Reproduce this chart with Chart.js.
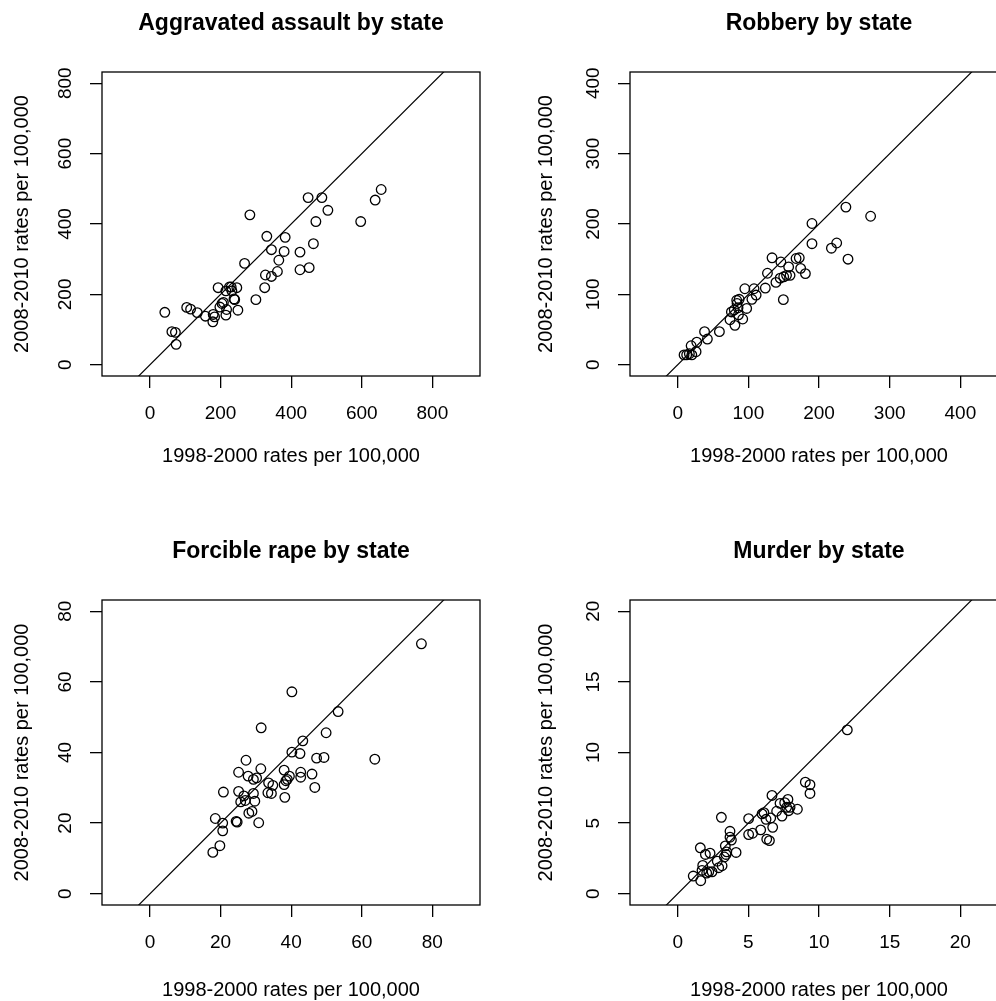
<!DOCTYPE html>
<html>
<head>
<meta charset="utf-8">
<script src="https://cdn.jsdelivr.net/npm/chart.js@4.4.1/dist/chart.umd.min.js"></script>
<style>
  html, body { margin: 0; padding: 0; background: #fff; overflow: hidden; width: 996px; height: 1001px; }
  canvas { position: absolute; }
</style>
</head>
<body>
<canvas id="assault" width="498" height="490" style="left:0;top:0"></canvas>
<canvas id="robbery" width="520" height="490" style="left:498px;top:0"></canvas>
<canvas id="rape" width="498" height="501" style="left:0;top:500px"></canvas>
<canvas id="murder" width="520" height="501" style="left:498px;top:500px"></canvas>
<script>
// rates per 100,000: x = 1998-2000, y = 2008-2010
const assaultX = [42, 62, 72, 74, 104, 115, 134, 157, 179, 178, 183, 193, 198, 204, 208, 215, 215, 217, 225, 230, 232, 238, 240, 246, 249, 268, 283, 300, 325, 327, 331, 344, 344, 361, 365, 380, 383, 425, 425, 448, 451, 463, 470, 487, 504, 597, 638, 655];
const assaultY = [149, 94, 92, 58, 163, 158, 148, 138, 143, 122, 136, 219, 164, 174, 177, 210, 141, 157, 221, 221, 210, 187, 185, 219, 155, 288, 426, 185, 219, 255, 365, 327, 251, 265, 297, 322, 362, 320, 270, 475, 276, 344, 407, 475, 439, 407, 468, 498];

const robberyX = [9, 12.7, 16.5, 20, 19, 26, 27, 38, 42, 59, 74, 76, 80, 81, 83.5, 84, 85.4, 86, 87, 92, 95, 97.6, 105, 108, 111, 124, 127, 133.5, 139, 146, 145, 149.5, 150, 154, 157, 159, 167.5, 172, 174, 180.7, 190, 190, 217.5, 225, 238, 241, 273];
const robberyY = [14, 14, 15.7, 14, 27, 18.5, 32, 47, 36.5, 47, 64, 75, 78, 56, 91.6, 87, 81, 71, 93, 65, 108, 80, 93, 108, 99, 109, 130, 152, 117, 146, 123, 92.5, 125, 127, 139, 127, 151, 152, 137, 129.5, 200.7, 172, 165.6, 173, 224, 150, 211];

const rapeX = [17.8, 19.8, 18.5, 20.6, 20.6, 20.8, 24.4, 24.7, 25.1, 25.1, 25.7, 26.6, 27, 27.2, 27.8, 28, 28.9, 29.3, 29.3, 29.7, 30.2, 30.8, 31.4, 31.5, 33.6, 33.4, 34.4, 34.8, 38, 38, 38.2, 38.5, 38.9, 39.5, 40.2, 40.2, 42.5, 42.7, 42.7, 43.3, 45.9, 46.7, 47.2, 49.3, 49.9, 53.3, 63.7, 76.9];
const rapeY = [11.7, 13.6, 21.3, 20, 17.8, 28.8, 20.5, 20.3, 34.4, 29, 26, 27.7, 26.4, 37.8, 33.3, 22.8, 23.3, 32.4, 28.4, 26.2, 32.8, 20.1, 35.4, 47, 31.4, 28.6, 28.4, 30.7, 35, 30.9, 27.3, 32, 32.4, 33.3, 57.2, 40.1, 39.7, 34.4, 33, 43.3, 33.9, 30.1, 38.4, 38.6, 45.6, 51.6, 38.1, 70.8];

const murderX = [1.1, 1.6, 1.63, 1.72, 1.77, 1.96, 2.05, 2.2, 2.29, 2.43, 2.8, 2.9, 3.09, 3.14, 3.3, 3.37, 3.42, 3.47, 3.7, 3.7, 3.8, 4.13, 5.02, 5.02, 5.3, 5.87, 5.97, 6.1, 6.25, 6.3, 6.49, 6.58, 6.67, 6.72, 7.0, 7.24, 7.38, 7.57, 7.71, 7.8, 7.85, 7.95, 8.47, 9.03, 9.36, 9.36, 12.0];
const murderY = [1.25, 3.25, 0.92, 1.65, 2.0, 2.78, 1.46, 1.55, 2.87, 1.55, 2.3, 1.84, 5.41, 1.98, 2.6, 3.39, 2.78, 2.96, 4.42, 4.0, 3.8, 2.92, 5.32, 4.19, 4.28, 4.52, 5.65, 5.74, 5.27, 3.86, 3.76, 5.36, 6.96, 4.7, 5.84, 6.4, 5.5, 6.45, 6.12, 6.68, 5.88, 6.12, 5.98, 7.9, 7.72, 7.1, 11.6];

const assaultTicks = [0, 200, 400, 600, 800];
const robberyTicks = [0, 100, 200, 300, 400];
const rapeTicks = [0, 20, 40, 60, 80];
const murderTicks = [0, 5, 10, 15, 20];

const xLabel = '1998-2000 rates per 100,000';
const yLabel = '2008-2010 rates per 100,000';

const FONT = '"Liberation Sans", Arial, Helvetica, sans-serif';
Chart.defaults.font.family = FONT;
Chart.defaults.color = '#000';

// box around the plot region + y tick labels written along the axis (R style)
const rFrame = {
  id: 'rFrame',
  afterDraw(chart) {
    const { ctx, chartArea: a, scales: { y } } = chart;
    ctx.save();
    ctx.strokeStyle = '#000';
    ctx.lineWidth = 1.3;
    ctx.strokeRect(a.left, a.top, a.right - a.left, a.bottom - a.top);
    ctx.fillStyle = '#000';
    ctx.font = '19px ' + FONT;
    ctx.textAlign = 'center';
    ctx.textBaseline = 'middle';
    y.ticks.forEach(t => {
      ctx.save();
      ctx.translate(a.left - 36, y.getPixelForValue(t.value));
      ctx.rotate(-Math.PI / 2);
      ctx.fillText(t.label != null ? t.label : String(t.value), 0, 0);
      ctx.restore();
    });
    ctx.restore();
  }
};

function makePanel(id, title, xs, ys, ticks, xLim, yLim, box, titleY, xTitleY, yTitleX) {
  const canvas = document.getElementById(id);
  const W = canvas.width, H = canvas.height;
  const lo = Math.min(xLim[0], yLim[0]), hi = Math.max(xLim[1], yLim[1]);
  const tickGrid = { drawOnChartArea: false, drawTicks: true, tickLength: 12, color: '#000', lineWidth: 1.3 };

  return new Chart(canvas, {
    data: {
      datasets: [
        {
          type: 'scatter',
          data: xs.map((x, i) => ({ x: x, y: ys[i] })),
          pointStyle: 'circle',
          pointRadius: 4.8,
          borderWidth: 1.3,
          borderColor: '#000',
          backgroundColor: 'rgba(0,0,0,0)'
        },
        {
          // y = x reference line
          type: 'line',
          data: [{ x: lo, y: lo }, { x: hi, y: hi }],
          borderColor: '#000',
          borderWidth: 1.2,
          pointRadius: 0,
          fill: false
        }
      ]
    },
    options: {
      responsive: false,
      animation: false,
      events: [],
      layout: { padding: { left: 0, top: 0, right: W - box.right, bottom: 0 } },
      plugins: {
        legend: { display: false },
        tooltip: { enabled: false },
        title: {
          display: true,
          text: title,
          fullSize: false,
          color: '#000',
          font: { size: 23, weight: 'bold', lineHeight: 1.2 },
          padding: { top: titleY - 13.8, bottom: box.top - (titleY - 13.8) - 27.6 }
        }
      },
      scales: {
        x: {
          type: 'linear',
          position: 'bottom',
          min: xLim[0],
          max: xLim[1],
          afterBuildTicks: s => { s.ticks = ticks.map(v => ({ value: v })); },
          afterFit: s => { s.height = H - box.bottom; },
          grid: tickGrid,
          border: { display: false },
          ticks: { color: '#000', font: { size: 19 }, padding: 14, maxRotation: 0, autoSkip: false },
          title: {
            display: true, text: xLabel, color: '#000',
            font: { size: 20, lineHeight: 1 },
            padding: { top: 0, bottom: H - xTitleY - 10 }
          }
        },
        y: {
          type: 'linear',
          position: 'left',
          min: yLim[0],
          max: yLim[1],
          afterBuildTicks: s => { s.ticks = ticks.map(v => ({ value: v })); },
          afterFit: s => { s.width = box.left; },
          grid: tickGrid,
          border: { display: false },
          ticks: { display: false },
          title: {
            display: true, text: yLabel, color: '#000',
            font: { size: 20, lineHeight: 1 },
            padding: { top: yTitleX - 10, bottom: 0 }
          }
        }
      }
    },
    plugins: [rFrame]
  });
}

makePanel('assault', 'Aggravated assault by state', assaultX, assaultY, assaultTicks,
  [-136, 935], [-32, 832], { left: 102, top: 72, right: 480, bottom: 376 }, 23.3, 456.5, 22.5);
makePanel('robbery', 'Robbery by state', robberyX, robberyY, robberyTicks,
  [-67.5, 467.4], [-16, 416], { left: 132, top: 72, right: 510, bottom: 376 }, 23.3, 456.5, 48);
makePanel('rape', 'Forcible rape by state', rapeX, rapeY, rapeTicks,
  [-13.6, 93.5], [-3.2, 83.2], { left: 102, top: 100, right: 480, bottom: 405 }, 51.7, 490.7, 22.5);
makePanel('murder', 'Murder by state', murderX, murderY, murderTicks,
  [-3.375, 23.37], [-0.8, 20.8], { left: 132, top: 100, right: 510, bottom: 405 }, 51.7, 490.7, 48);
</script>
</body>
</html>
